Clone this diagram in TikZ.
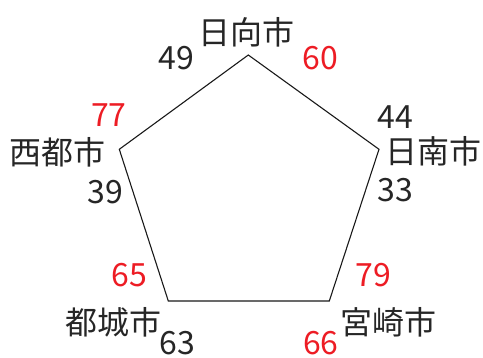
\documentclass[tikz,border=0pt]{standalone}
\usepackage{fontspec}
\setmainfont{Noto Sans CJK JP}
\definecolor{numred}{RGB}{237,28,36}
\begin{document}
\begin{tikzpicture}[x=1pt,y=-1pt,
  lbl/.style={font=\fontsize{32}{32}\selectfont, inner sep=0pt, anchor=base, text=black!85},
  rnum/.style={lbl, text=numred},
  edge/.style={draw=black!90, line width=1.1pt, line join=miter}]
\useasboundingbox (0,0) rectangle (483,358);
\coordinate (top) at (248.3,55);
\coordinate (right) at (379,149.3);
\coordinate (br) at (329.3,301);
\coordinate (bl) at (168.3,301);
\coordinate (left) at (119.3,149.3);
\draw[edge] (top) -- (right) -- (br) -- (bl) -- (left) -- cycle;
% top
\node[lbl] (nh) at (246.7,45) {日向市};
\node[lbl] (n49) at (176.7,70) {49};
\node[rnum] (n60) at (320.3,70) {60};
% left
\node[lbl] (nsaito) at (57.5,165) {西都市};
\node[rnum] (n77) at (108.8,126.7) {77};
\node[lbl] (n39) at (105.5,203.3) {39};
% right
\node[lbl] (nnichinan) at (433,163.5) {日南市};
\node[lbl] (n44) at (395,128.3) {44};
\node[lbl] (n33) at (395.5,201.3) {33};
% bottom left
\node[lbl] (nmiyakonojo) at (113.3,335) {都城市};
\node[rnum] (n65) at (129.3,286.3) {65};
\node[lbl] (n63) at (177,354.5) {63};
% bottom right
\node[lbl] (nmiyazaki) at (388.3,335) {宮崎市};
\node[rnum] (n79) at (373.7,286.3) {79};
\node[rnum] (n66) at (320.8,354.5) {66};
\end{tikzpicture}
\end{document}
